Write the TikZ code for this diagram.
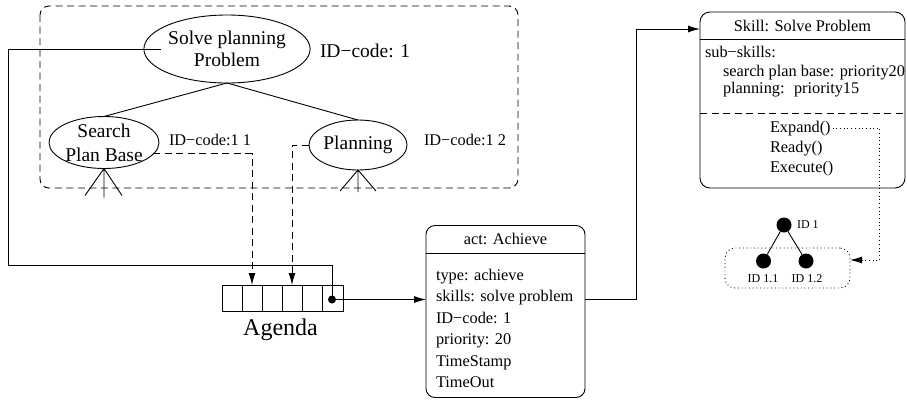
\documentclass[tikz,border=0pt]{standalone}
\usepackage{fontspec}
\setmainfont{Liberation Serif}
\usetikzlibrary{arrows.meta,shapes.geometric,calc}

\newcommand\bodyfnt{\fontsize{16.3}{19}\selectfont}
\newcommand\bigfnt{\fontsize{19.5}{22}\selectfont}
\newcommand\smallfnt{\fontsize{12}{14}\selectfont}

\begin{document}
\begin{tikzpicture}[x=1pt,y=-1pt,
  line width=0.9pt,
  every node/.style={inner sep=0pt, outer sep=0pt},
  goal/.style={ellipse, draw, align=center, font=\bigfnt},
  idlabel/.style={anchor=west, font=\bodyfnt},
  txt/.style={anchor=base west, font=\bodyfnt},
  dashline/.style={dash pattern=on 7pt off 4.5pt},
  dotline/.style={dash pattern=on 0.9pt off 2.8pt},
  arr/.style={-{Latex[length=12pt,width=7pt]}},
  blob/.style={circle, fill, minimum size=15pt},
]
\useasboundingbox (0,0) rectangle (907,399);

% goal tree
\draw[dashline, rounded corners=9pt] (40,6) rectangle (518,188);
\node[goal, minimum width=166pt, minimum height=68pt] (solve) at (227,49) {Solve planning\\Problem};
\node[goal, inner sep=-5pt, minimum width=110pt, minimum height=52pt,
      font=\fontsize{19.5}{24}\selectfont] (search) at (104,142.5) {Search\\Plan Base};
\node[goal, minimum width=98pt, minimum height=50pt] (plan) at (358,145) {Planning};

\node[idlabel, font=\bigfnt] (id1) at (320,51) {ID−code: 1};
\node[idlabel] (id11) at (169,140) {ID−code:1 1};
\node[idlabel] (id12) at (424,140) {ID−code:1 2};

\draw (solve.south) -- (search.north);
\draw (solve.south) -- (plan.north);

% open sub-trees below the leaves
\draw (search.south) -- ++(-19,27) (search.south) -- ++(18,27) (search.south) -- ++(0,29);
\draw (plan.south) -- ++(-18,21) (plan.south) -- ++(18,21) (plan.south) -- ++(0,22);

% agenda queue
\node[draw, minimum width=121pt, minimum height=26pt] (agenda) at (282.5,298) {};
\foreach \i in {1,...,5}
  \draw ($(agenda.north west)+(\i*20.17,0)$) -- ($(agenda.south west)+(\i*20.17,0)$);
\node[font=\fontsize{24}{28}\selectfont] (agendalbl) at (280.5,330) {Agenda};
\coordinate (qdot) at (332,299.5);
\fill (qdot) circle (4pt);

\draw ([xshift=17pt]solve.west) -| (8,265) -| (qdot);
\draw[dashline, arr] (search.-13) -| ($(agenda.north west)+(30,0)$);
\draw[dashline, arr] (plan.west) -| ($(agenda.north west)+(70,0)$);

% act record
\node[draw, rounded corners=9pt, minimum width=159pt, minimum height=172pt] (act) at (505.5,311.5) {};
\node[anchor=base, font=\bodyfnt] (acttitle) at (505.5,244) {act: Achieve};
\draw ($(act.north west)+(0,27.5)$) -- ($(act.north east)+(0,27.5)$);
\foreach \t [count=\k] in {type: achieve, skills: solve problem, ID−code: 1, priority: 20, TimeStamp, TimeOut}
  \node[txt] (actline\k) at (436,{258.5+21.5*\k}) {\t};

\draw[arr] (qdot) -- (qdot -| act.west);

% skill record
\node[draw, rounded corners=10pt, minimum width=205pt, minimum height=176pt] (skill) at (802.5,100) {};
\node[anchor=base, font=\bodyfnt] (skilltitle) at (802.5,31) {Skill: Solve Problem};
\draw ($(skill.north west)+(0,27.5)$) -- ($(skill.north east)+(0,27.5)$);
\node[txt] (subskills) at (705,57) {sub−skills:};
\node[txt] (sub1) at (723,76) {search plan base: priority20};
\node[txt] (sub2) at (723,93) {planning:~ priority15};
\draw[dashline] ($(skill.north west)+(0,101)$) -- ($(skill.north east)+(0,101)$);
\node[txt] (expand) at (770,132) {Expand()};
\node[txt] (ready) at (770,152) {Ready()};
\node[txt] (execute) at (770,172) {Execute()};

\draw[arr] (act.east |- qdot) -- ++(51,0) |- ([yshift=71pt]skill.west);

% expanded id tree
\node[draw, dotline, rounded corners=10pt, minimum width=125pt, minimum height=40pt] (tbox) at (787.5,268) {};
\node[blob] (r) at (784,225) {};
\node[blob] (c1) at (763.5,261) {};
\node[blob] (c2) at (806,261) {};
\draw (r) -- (c1) (r) -- (c2);
\node[anchor=west, font=\smallfnt] (lr) at (797,225) {ID 1};
\node[font=\smallfnt] (lc1) at (763,278.5) {ID 1.1};
\node[font=\smallfnt] (lc2) at (807,278.5) {ID 1.2};

\draw[dotline, arr] ([xshift=2pt]expand.east) -- ++(47,0) |- ([yshift=8pt]tbox.east);
\end{tikzpicture}
\end{document}
